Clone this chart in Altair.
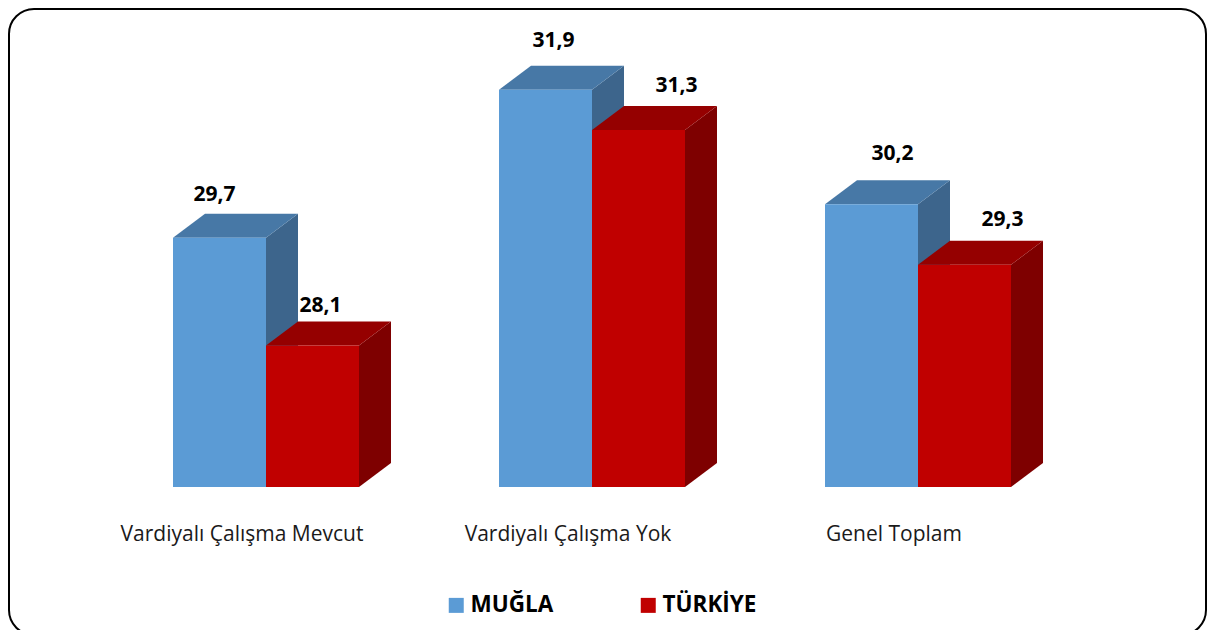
import altair as alt
import pandas as pd

categories = ["Vardiyalı Çalışma Mevcut", "Vardiyalı Çalışma Yok", "Genel Toplam"]
mugla = [29.7, 31.9, 30.2]
turkiye = [28.1, 31.3, 29.3]
value_labels_mugla = ["29,7", "31,9", "30,2"]
value_labels_turkiye = ["28,1", "31,3", "29,3"]
series = ["MUĞLA", "TÜRKİYE"]

BASE = 26.0
PX_X = 326.0          # px per category
PX_Y = 67.35          # px per value unit
W, H = 1199, 622
XMIN = (8 - 266) / PX_X
XMAX = XMIN + W / PX_X
YMAX = BASE + (487 - 8) / PX_Y
YMIN = YMAX - H / PX_Y
BW = 93.0 / PX_X
DX = 32.0 / PX_X
DY = 24.0 / PX_Y

FRONT = {"MUĞLA": "#5B9BD5", "TÜRKİYE": "#C00000"}
TOP = {"MUĞLA": "#4778A6", "TÜRKİYE": "#950000"}
SIDE = {"MUĞLA": "#3D658C", "TÜRKİYE": "#7E0000"}

x_s = alt.Scale(domain=[XMIN, XMAX], nice=False, zero=False)
y_s = alt.Scale(domain=[YMIN, YMAX], nice=False, zero=False)
X = lambda f: alt.X(f, type="quantitative", scale=x_s, axis=None)
Y = lambda f: alt.Y(f, type="quantitative", scale=y_s, axis=None)

front_rows, side_rows, top_rows, label_rows = [], [], [], []
label_shift = {  # hand-placed offsets of the data labels (px)
    ("MUĞLA", 0): (-5, -43), ("TÜRKİYE", 0): (8, -40),
    ("MUĞLA", 1): (8, -49), ("TÜRKİYE", 1): (38, -44),
    ("MUĞLA", 2): (21, -50), ("TÜRKİYE", 2): (38, -45),
}
for s, vals, labs, left in [("MUĞLA", mugla, value_labels_mugla, -BW),
                            ("TÜRKİYE", turkiye, value_labels_turkiye, 0.0)]:
    for i, v in enumerate(vals):
        xl, xr = i + left, i + left + BW
        key = f"{s}{i}"
        front_rows.append(dict(series=s, xl=xl, xr=xr, v=v, base=BASE))
        side_rows += [dict(key=key, series=s, x=xr, y=v, y2=BASE),
                      dict(key=key, series=s, x=xr + DX, y=v + DY, y2=BASE + DY)]
        top_rows += [dict(key=key, series=s, y=v, x=xl, x2=xr),
                     dict(key=key, series=s, y=v + DY, x=xl + DX, x2=xr + DX)]
        ox, oy = label_shift[(s, i)]
        label_rows.append(dict(x=(xl + xr) / 2 + ox / PX_X, y=v - oy / PX_Y, t=labs[i]))

layers = [
    alt.Chart(pd.DataFrame({"a": [0]})).mark_rect(
        cornerRadius=25, fillOpacity=0, stroke="#000000", strokeWidth=2
    ).encode(x=alt.value(1), x2=alt.value(1198), y=alt.value(1), y2=alt.value(627))
]


def solid(s):
    f = pd.DataFrame(front_rows); f = f[f.series == s]
    d = pd.DataFrame(side_rows); d = d[d.series == s]
    t = pd.DataFrame(top_rows); t = t[t.series == s]
    out = []
    for k in d.key.unique():
        out.append(alt.Chart(d[d.key == k]).mark_area(color=SIDE[s], orient="vertical", line=False).encode(
            x=X("x"), y=Y("y"), y2="y2"))
        out.append(alt.Chart(t[t.key == k]).mark_area(color=TOP[s], orient="horizontal", line=False).encode(
            y=Y("y"), x=X("x"), x2="x2"))
    out.append(alt.Chart(f).mark_rect().encode(
        x=X("xl"), x2="xr", y=Y("v"), y2="base",
        color=alt.Color("series:N", scale=alt.Scale(domain=series, range=[FRONT[n] for n in series]),
                        legend=alt.Legend(
                            title=None, orient="none", legendX=437, legendY=586, direction="horizontal",
                            symbolType="square", symbolSize=225, symbolStrokeWidth=0,
                            labelFont="Open Sans", labelFontWeight="bold", labelFontSize=22.5,
                            labelColor="#000000", labelOffset=3, columnPadding=83, symbolOpacity=1,
                        )),
    ))
    return out


layers += solid("MUĞLA") + solid("TÜRKİYE")

layers.append(alt.Chart(pd.DataFrame(label_rows)).mark_text(
    font="Open Sans", fontWeight="bold", fontSize=21, color="#000000", align="center", baseline="middle"
).encode(x=X("x"), y=Y("y"), text="t:N"))

cat_df = pd.DataFrame({"x": [i - 24 / PX_X for i in range(3)], "y": [BASE] * 3, "t": categories})
layers.append(alt.Chart(cat_df).mark_text(
    font="Open Sans", fontSize=21, color="#1a1a1a", align="center", baseline="middle", dy=48
).encode(x=X("x"), y=Y("y"), text="t:N"))

chart = alt.layer(*layers).properties(
    width=W, height=H, padding=0, autosize=alt.AutoSizeParams(type="none"),
    background="#ffffff",
).configure_view(stroke=None)

chart.save("out.html", embed_options={"renderer": "svg", "actions": False})
